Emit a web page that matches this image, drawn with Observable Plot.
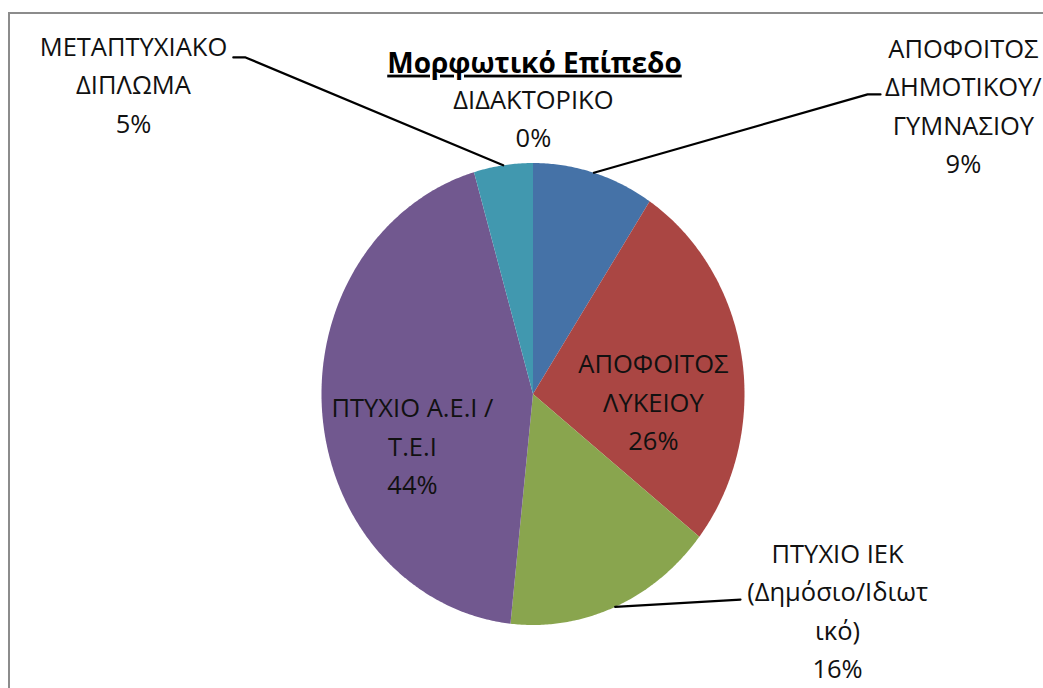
<!DOCTYPE html>
<html><head><meta charset="utf-8">
<script src="https://cdn.jsdelivr.net/npm/d3@7"></script>
<script src="https://cdn.jsdelivr.net/npm/@observablehq/plot@0.6"></script>
<style>
html,body{margin:0;padding:0;background:#fff;overflow:hidden}
#wrap{position:relative;width:1043px;height:688px;overflow:hidden}
#frame{position:absolute;left:8px;top:12px;width:1100px;height:800px;border-left:2.5px solid #8c8c8c;border-top:2.5px solid #8c8c8c}
#chart{position:absolute;left:0;top:0}
</style></head><body><div id="wrap"><div id="frame"></div><div id="chart"></div></div>
<script>
// ---- data ----
const title = "Μορφωτικό Επίπεδο";
const categories = [
  "ΑΠΟΦΟΙΤΟΣ ΔΗΜΟΤΙΚΟΥ/ΓΥΜΝΑΣΙΟΥ",
  "ΑΠΟΦΟΙΤΟΣ ΛΥΚΕΙΟΥ",
  "ΠΤΥΧΙΟ ΙΕΚ (Δημόσιο/Ιδιωτικό)",
  "ΠΤΥΧΙΟ Α.Ε.Ι / Τ.Ε.Ι",
  "ΜΕΤΑΠΤΥΧΙΑΚΟ ΔΙΠΛΩΜΑ",
  "ΔΙΔΑΚΤΟΡΙΚΟ"
];
const labelTexts = [
  "ΑΠΟΦΟΙΤΟΣ\nΔΗΜΟΤΙΚΟΥ/\nΓΥΜΝΑΣΙΟΥ",
  "ΑΠΟΦΟΙΤΟΣ\nΛΥΚΕΙΟΥ",
  "ΠΤΥΧΙΟ ΙΕΚ\n(Δημόσιο/Ιδιωτ\nικό)",
  "ΠΤΥΧΙΟ Α.Ε.Ι /\nΤ.Ε.Ι",
  "ΜΕΤΑΠΤΥΧΙΑΚΟ\nΔΙΠΛΩΜΑ",
  "ΔΙΔΑΚΤΟΡΙΚΟ"
];
const values = [9.3, 26.3, 16.1, 43.8, 4.5, 0];
const percentLabels = ["9%", "26%", "16%", "44%", "5%", "0%"];
const colors = ["#4572A7", "#AA4643", "#89A54E", "#71588F", "#4198AF", "#DB843D"];

// ---- layout (label anchors & leader elbows, in pie-radius units) ----
const labelPos = [
  {x: 2.035, y: 1.259, leader: [[1.582, 1.297], [1.643, 1.297]]},
  {x: 0.569, y: -0.024, leader: null},
  {x: 1.440, y: -0.927, leader: [[0.981, -0.890]]},
  {x: -0.570, y: -0.215, leader: null},
  {x: -1.889, y: 1.350, leader: [[-1.359, 1.457], [-1.417, 1.457]]},
  {x: 0.002, y: 1.205, leader: null}
];

const arcs = d3.pie().sort(null).value(d => d)(values);
const step = Math.PI / 360;
const slicePts = [];
arcs.forEach((a, i) => {
  if (a.endAngle - a.startAngle <= 0) return;
  slicePts.push({cat: categories[i], x: 0, y: 0});
  const n = Math.max(2, Math.ceil((a.endAngle - a.startAngle) / step));
  for (let k = 0; k <= n; k++) {
    const t = a.startAngle + (a.endAngle - a.startAngle) * k / n;
    slicePts.push({cat: categories[i], x: Math.sin(t), y: Math.cos(t)});
  }
  slicePts.push({cat: categories[i], x: 0, y: 0});
});

const leaderPts = [];
arcs.forEach((a, i) => {
  const L = labelPos[i].leader;
  if (!L) return;
  const m = (a.startAngle + a.endAngle) / 2;
  leaderPts.push({cat: categories[i], x: Math.sin(m), y: Math.cos(m)});
  L.forEach(p => leaderPts.push({cat: categories[i], x: p[0], y: p[1]}));
});

const labels = categories.map((c, i) => ({
  text: labelTexts[i] + "\n" + percentLabels[i],
  x: labelPos[i].x, y: labelPos[i].y
}));

const font = "'Open Sans', 'Noto Sans', sans-serif";
const chart = Plot.plot({
  width: 1043,
  height: 688,
  margin: 0,
  style: {fontFamily: font, background: "transparent", overflow: "visible"},
  x: {domain: [-1, 1], range: [321, 744], axis: null},
  y: {domain: [-1, 1], range: [624.5, 162.5], axis: null},
  color: {domain: categories, range: colors},
  marks: [
    Plot.line(slicePts, {x: "x", y: "y", z: "cat", fill: "cat", stroke: "none"}),
    Plot.line(leaderPts, {x: "x", y: "y", z: "cat", stroke: "#000", strokeWidth: 2.2}),
    Plot.text(labels, {x: "x", y: "y", text: "text", fontSize: 25.5, lineHeight: 1.51,
      lineAnchor: "middle", textAnchor: "middle", fill: "#111"}),
    Plot.text([title], {x: () => 0.007, y: () => 1.43, text: d => d, fontSize: 28,
      fontWeight: "bold", fill: "#000", textAnchor: "middle", lineAnchor: "middle"})
  ]
});
d3.select(chart).selectAll("text").filter(function () { return this.textContent === title; })
  .style("text-decoration", "underline");
document.getElementById("chart").appendChild(chart);
</script></body></html>
